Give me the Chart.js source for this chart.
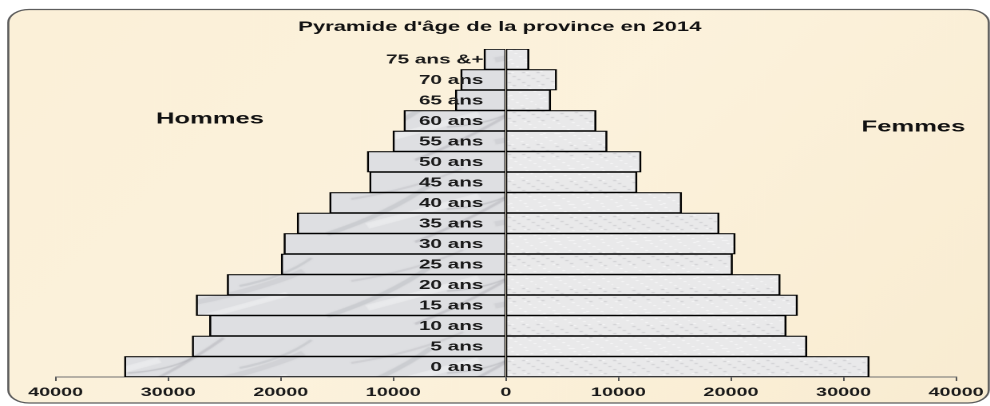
<!DOCTYPE html>
<html><head><meta charset="utf-8">
<script src="https://cdn.jsdelivr.net/npm/chart.js@4.4.1/dist/chart.umd.min.js"></script>
<style>
html,body{margin:0;padding:0;background:#fff;overflow:hidden}
#c{display:block;width:990px !important;height:406px !important}
</style>
</head><body>
<canvas id="c" width="620" height="406"></canvas>
<script>
// ---- data ----
const categories = ['0 ans','5 ans','10 ans','15 ans','20 ans','25 ans','30 ans','35 ans','40 ans','45 ans','50 ans','55 ans','60 ans','65 ans','70 ans','75 ans &+'];
const hommes = [33870, 27850, 26310, 27500, 24740, 19940, 19700, 18520, 15640, 12090, 12300, 10020, 9040, 4470, 4000, 1930];
const femmes = [32270, 26730, 24890, 25900, 24360, 20120, 20360, 18930, 15600, 11640, 12000, 8980, 8000, 3970, 4500, 2040];
const tickValues = [-40000, -30000, -20000, -10000, 0, 10000, 20000, 30000, 40000];
const chartTitle = "Pyramide d'âge de la province en 2014";
const leftLabel = 'Hommes';
const rightLabel = 'Femmes';

// ---- textures ----
function marblePattern(ctx) {
  const t = document.createElement('canvas');
  t.width = 200; t.height = 82;
  const g = t.getContext('2d');
  g.fillStyle = '#dedfe2'; g.fillRect(0, 0, 200, 82);
  const streaks = [[5, 70, 70, 20, 4, 0.14], [60, 78, 140, 10, 2.5, 0.18], [110, 60, 190, 25, 5, 0.10], [20, 35, 90, 4, 2, 0.12], [80, 45, 120, 30, 1.5, 0.20], [150, 40, 195, 12, 2, 0.14]];
  streaks.forEach(s => {
    g.strokeStyle = 'rgba(95,97,105,' + s[5] + ')';
    g.lineWidth = s[4];
    g.beginPath(); g.moveTo(s[0], s[1]); g.quadraticCurveTo((s[0] + s[2]) / 2 + 6, (s[1] + s[3]) / 2 + 5, s[2], s[3]); g.stroke();
  });
  const hl = [[30, 62, 100, 32, 6], [125, 72, 180, 48, 5]];
  hl.forEach(s => {
    g.strokeStyle = 'rgba(255,255,255,0.35)';
    g.lineWidth = s[4];
    g.beginPath(); g.moveTo(s[0], s[1]); g.lineTo(s[2], s[3]); g.stroke();
  });
  return ctx.createPattern(t, 'repeat');
}
function speckPattern(ctx) {
  const t = document.createElement('canvas');
  t.width = 48; t.height = 36;
  const g = t.getContext('2d');
  g.fillStyle = '#e9e9ea'; g.fillRect(0, 0, 48, 36);
  for (let i = 0; i < 70; i++) {
    const x = (i * 29) % 48, y = (i * 17 + (i % 5) * 7) % 36;
    g.fillStyle = (i % 3 === 0) ? 'rgba(160,160,165,0.35)' : 'rgba(255,255,255,0.65)';
    g.fillRect(x, y, 2, 1);
  }
  return ctx.createPattern(t, 'repeat');
}

const ctx = document.getElementById('c').getContext('2d');

const framePlugin = {
  id: 'frame',
  beforeDraw(chart) {
    const c = chart.ctx;
    c.save();
    c.fillStyle = '#ffffff';
    c.fillRect(0, 0, chart.width, chart.height);
    c.beginPath();
    c.roundRect(5.2, 9.5, 614, 393.5, 13);
    const bg = c.createLinearGradient(0, 0, 620, 406);
    bg.addColorStop(0, '#fbf0d8'); bg.addColorStop(0.5, '#fcf2dc'); bg.addColorStop(1, '#f9ecd1');
    c.fillStyle = bg;
    c.fill();
    c.lineWidth = 1.3;
    c.strokeStyle = '#5d5d5d';
    c.stroke();
    c.fillStyle = '#111';
    c.textAlign = 'center';
    c.textBaseline = 'middle';
    c.font = 'bold 13.8px "Liberation Sans", Arial, sans-serif';
    c.fillText(chartTitle, 313, 27);
    c.font = 'bold 16px "Liberation Sans", Arial, sans-serif';
    c.fillText(leftLabel, 131.5, 119);
    c.fillText(rightLabel, 572, 127);
    c.restore();
  },
  afterDatasetsDraw(chart) {
    const c = chart.ctx;
    const xs = chart.scales.x, ys = chart.scales.y;
    const x0 = xs.getPixelForValue(0);
    c.save();
    c.fillStyle = '#1a1a1a';
    c.textAlign = 'right';
    c.textBaseline = 'middle';
    c.font = 'bold 13px "Liberation Sans", Arial, sans-serif';
    categories.forEach((lab, i) => {
      c.fillText(lab, x0 - 14, ys.getPixelForValue(i) + 0.5);
    });
    c.restore();
  }
};

new Chart(ctx, {
  type: 'bar',
  data: {
    labels: categories,
    datasets: [
      {
        label: leftLabel,
        data: hommes.map(v => -v),
        backgroundColor: marblePattern(ctx),
        borderColor: '#000',
        borderWidth: {top: 1.1, bottom: 1.1, left: 1.3, right: 0.7},
        borderSkipped: false,
        barPercentage: 1, categoryPercentage: 1
      },
      {
        label: rightLabel,
        data: femmes,
        backgroundColor: speckPattern(ctx),
        borderColor: '#000',
        borderWidth: {top: 1.1, bottom: 1.1, left: 0.7, right: 1.3},
        borderSkipped: false,
        barPercentage: 1, categoryPercentage: 1
      }
    ]
  },
  options: {
    indexAxis: 'y',
    responsive: false,
    animation: false,
    devicePixelRatio: 2,
    layout: {padding: {top: 49, left: 34.8, right: 21, bottom: 0}},
    plugins: {legend: {display: false}, tooltip: {enabled: false}, title: {display: false}},
    scales: {
      x: {
        type: 'linear',
        stacked: true,
        min: -40000, max: 40000,
        afterBuildTicks(scale) { scale.ticks = tickValues.map(v => ({value: v})); },
        afterFit(scale) { scale.height = 29; },
        border: {display: true, color: '#707070', width: 1},
        grid: {display: true, drawOnChartArea: false, drawTicks: true, tickLength: 4, tickColor: '#555', tickWidth: 1},
        ticks: {
          padding: 4,
          color: '#1a1a1a',
          font: {family: '"Liberation Sans", Arial, sans-serif', size: 12.4, weight: 'bold'},
          maxRotation: 0, autoSkip: false,
          callback: v => String(Math.abs(v))
        }
      },
      y: {
        type: 'category',
        stacked: true,
        reverse: true,
        display: false,
        offset: true
      }
    }
  },
  plugins: [framePlugin]
});
</script>
</body></html>
